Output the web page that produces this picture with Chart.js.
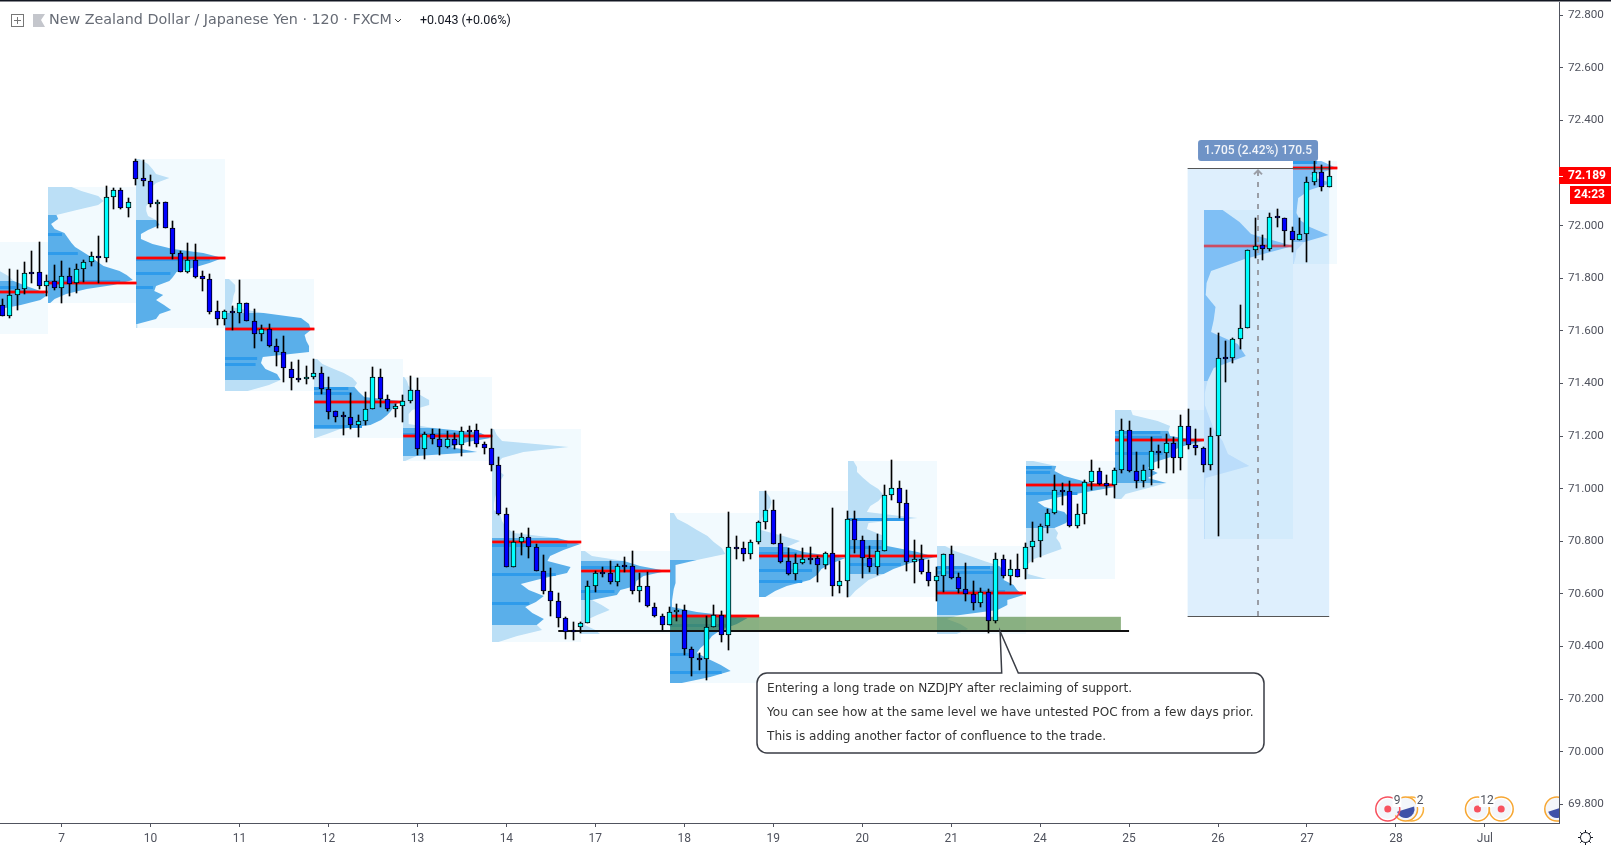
<!DOCTYPE html>
<html>
<head>
<meta charset="utf-8">
<title>NZDJPY</title>
<script src="https://cdn.jsdelivr.net/npm/chart.js@4/dist/chart.umd.min.js"></script>
<style>
  html, body { margin: 0; background: #fff; overflow: hidden; }
  canvas { display: block; }
</style>
</head>
<body>
<canvas id="nzdjpy" width="1611" height="848"></canvas>
<script>
Chart.defaults.font.family = 'Roboto, sans-serif'

// candles, 2 hour bars, index = bar number
const opens = [
  71.697,71.658,71.735,71.758,71.823,71.823,71.772,71.788,71.762,71.807,
  71.781,71.834,71.861,71.883,71.876,72.108,72.134,72.068,72.245,72.181,
  72.169,72.081,72.089,71.993,71.895,71.825,71.868,71.809,71.796,71.674,
  71.644,71.674,71.670,71.705,71.636,71.587,71.606,71.541,71.518,71.456,
  71.420,71.416,71.423,71.439,71.378,71.294,71.276,71.271,71.243,71.256,
  71.302,71.423,71.343,71.302,71.313,71.332,71.374,71.152,71.207,71.188,
  71.157,71.188,71.165,71.222,71.222,71.169,71.153,71.092,70.905,70.701,
  70.796,70.815,70.777,70.686,70.613,70.572,70.507,70.463,70.475,70.488,
  70.629,70.682,70.678,70.644,70.708,70.705,70.610,70.632,70.551,70.515,
  70.480,70.530,70.537,70.389,70.355,70.351,70.476,70.518,70.442,70.777,
  70.773,70.750,70.796,70.872,70.918,70.792,70.724,70.677,70.716,70.735,
  70.735,70.711,70.754,70.629,70.651,70.883,70.804,70.735,70.701,70.762,
  70.975,71.001,70.944,70.720,70.731,70.682,70.651,70.670,70.750,70.663,
  70.617,70.598,70.564,70.606,70.498,70.731,70.667,70.693,70.693,70.777,
  70.803,70.857,70.906,70.994,70.990,70.860,70.902,71.024,71.066,71.020,
  71.013,71.070,71.222,71.066,71.028,71.070,71.142,71.134,71.172,71.118,
  71.237,71.165,71.153,71.092,71.199,71.496,71.496,71.568,71.610,71.906,
  71.925,71.910,72.032,72.028,71.978,71.947,71.967,72.168,72.203,72.146
];
const highs = [
  71.721,71.834,71.831,71.862,71.904,71.938,71.812,71.849,71.866,71.838,
  71.854,71.869,71.899,71.961,72.151,72.143,72.143,72.105,72.253,72.250,
  72.193,72.098,72.089,72.018,71.904,71.934,71.930,71.828,71.816,71.714,
  71.679,71.695,71.793,71.705,71.682,71.621,71.626,71.569,71.579,71.482,
  71.489,71.465,71.493,71.463,71.423,71.294,71.292,71.363,71.279,71.368,
  71.461,71.454,71.355,71.321,71.355,71.427,71.420,71.214,71.226,71.226,
  71.218,71.210,71.233,71.237,71.245,71.176,71.227,71.120,70.925,70.841,
  70.831,70.849,70.788,70.748,70.697,70.602,70.514,70.495,70.495,70.648,
  70.689,70.702,70.724,70.712,70.739,70.762,70.678,70.682,70.564,70.522,
  70.549,70.561,70.556,70.400,70.376,70.515,70.556,70.534,70.911,70.819,
  70.796,70.804,70.876,70.990,70.959,70.826,70.773,70.750,70.773,70.777,
  70.743,70.758,70.925,70.725,70.914,70.914,70.819,70.781,70.826,71.013,
  71.109,71.028,70.997,70.804,70.785,70.728,70.701,70.750,70.781,70.678,
  70.716,70.651,70.621,70.617,70.754,70.747,70.728,70.750,70.792,70.872,
  70.864,70.921,71.054,71.020,71.028,70.940,71.032,71.108,71.077,71.051,
  71.077,71.264,71.256,71.138,71.092,71.195,71.165,71.207,71.195,71.279,
  71.302,71.226,71.157,71.229,71.591,71.561,71.572,71.698,71.906,72.028,
  71.963,72.047,72.062,72.028,71.994,72.028,72.184,72.252,72.229,72.245
];
const lows = [
  71.655,71.650,71.679,71.740,71.781,71.759,71.733,71.755,71.706,71.733,
  71.744,71.786,71.847,71.783,71.862,72.062,72.063,72.033,72.155,72.151,
  72.072,71.991,71.992,71.873,71.825,71.820,71.801,71.752,71.665,71.622,
  71.622,71.603,71.631,71.636,71.535,71.561,71.540,71.466,71.406,71.375,
  71.407,71.398,71.416,71.362,71.266,71.254,71.205,71.228,71.198,71.241,
  71.302,71.312,71.294,71.274,71.254,71.327,71.129,71.114,71.171,71.129,
  71.153,71.150,71.125,71.162,71.160,71.133,71.068,70.901,70.701,70.701,
  70.749,70.738,70.686,70.601,70.517,70.473,70.430,70.426,70.452,70.488,
  70.608,70.663,70.639,70.631,70.682,70.598,70.570,70.549,70.513,70.464,
  70.480,70.498,70.366,70.289,70.310,70.271,70.476,70.416,70.388,70.731,
  70.727,70.734,70.790,70.848,70.791,70.719,70.673,70.654,70.715,70.714,
  70.645,70.693,70.593,70.603,70.588,70.755,70.659,70.683,70.672,70.762,
  70.958,70.888,70.686,70.641,70.674,70.630,70.573,70.606,70.655,70.602,
  70.573,70.537,70.549,70.452,70.488,70.659,70.634,70.663,70.655,70.720,
  70.739,70.830,70.904,70.937,70.854,70.850,70.864,70.997,71.013,70.975,
  70.963,71.058,71.065,71.003,71.005,71.016,71.077,71.058,71.058,71.073,
  71.150,71.127,71.063,71.073,70.821,71.407,71.479,71.532,71.610,71.876,
  71.868,71.902,71.996,71.924,71.901,71.944,71.863,72.153,72.131,72.146
];
const closes = [
  71.658,71.735,71.758,71.819,71.818,71.772,71.788,71.762,71.807,71.779,
  71.834,71.861,71.883,71.876,72.108,72.134,72.068,72.089,72.179,72.169,
  72.081,72.089,71.992,71.894,71.825,71.868,71.806,71.796,71.673,71.644,
  71.674,71.669,71.705,71.636,71.587,71.606,71.541,71.518,71.458,71.420,
  71.414,71.423,71.439,71.378,71.293,71.274,71.271,71.243,71.256,71.302,
  71.423,71.343,71.302,71.313,71.332,71.374,71.152,71.207,71.188,71.157,
  71.188,71.165,71.218,71.217,71.169,71.153,71.092,70.905,70.701,70.796,
  70.815,70.777,70.686,70.613,70.572,70.507,70.457,70.457,70.488,70.629,
  70.680,70.677,70.644,70.708,70.703,70.610,70.632,70.553,70.515,70.480,
  70.530,70.537,70.389,70.355,70.350,70.476,70.518,70.442,70.777,70.772,
  70.750,70.796,70.872,70.918,70.791,70.722,70.676,70.716,70.731,70.730,
  70.711,70.754,70.629,70.651,70.883,70.804,70.735,70.701,70.762,70.975,
  71.001,70.944,70.720,70.731,70.682,70.651,70.670,70.750,70.662,70.617,
  70.598,70.564,70.606,70.498,70.731,70.667,70.693,70.663,70.777,70.803,
  70.857,70.906,70.994,70.989,70.860,70.902,71.024,71.066,71.019,71.011,
  71.070,71.222,71.066,71.028,71.070,71.142,71.134,71.172,71.118,71.237,
  71.165,71.153,71.092,71.199,71.496,71.494,71.568,71.610,71.906,71.924,
  71.910,72.032,72.028,71.978,71.947,71.967,72.168,72.203,72.146,72.189
];

// axis
const dayLabels = ['7','10','11','12','13','14','17','18','19','20','21','24','25','26','27','28','Jul'];
const dayBars = [8,20,32,44,56,68,80,92,104,116,128,140,152,164,176,188,200];

// volume profile per session: first bar, last bar, price range, POC
const sessionFrom = [-5.9,6.1,18.1,30.1,42.1,54.1,66.1,78.1,90.1,102.1,114.1,126.1,138.1,150.1,162.1,174.1];
const sessionTo   = [6.1,18.1,30.1,42.1,54.1,66.1,78.1,90.1,102.1,114.1,126.1,138.1,150.1,162.1,174.1,180.1];
const sessionHigh = [71.937,72.148,72.252,71.796,71.492,71.426,71.226,70.762,70.909,70.991,71.105,70.782,71.106,71.299,72.060,72.247];
const sessionLow  = [71.588,71.705,71.610,71.372,71.191,71.105,70.418,70.446,70.262,70.588,70.588,70.447,70.655,70.961,70.809,71.853];
const sessionPoc  = [71.749,71.783,71.876,71.606,71.328,71.200,70.796,70.686,70.515,70.743,70.743,70.602,71.013,71.184,71.924,72.218];

// volume by row from top to bottom, as % of a whole session width
const volume = [
  [30,32,34,36,38,40,46,56,62,76,92,100,92,70,40,36,32,28,24,20],
  [27,38,57,63,57,33,10,12,4,8,19,23,27,31,40,49,55,63,81,89,96,74,44,21,8,3],
  [3,13,18,22,37,22,16,13,13,15,11,11,13,22,26,13,5,5,18,41,75,97,82,67,45,41,37,22,20,30,22,31,39,26,22,1,1],
  [4,11,11,9,8,6,43,85,94,96,89,91,94,94,42,40,45,58,62,49,25],
  [3,9,22,33,43,48,45,50,56,97,90,86,82,75,63,29,14,1],
  [1,4,6,13,19,29,29,10,6,6,6,34,87,98,72,53,83,15,2],
  [2,5,11,86,35,11,5,5,13,9,5,5,3,2,2,9,11,15,24,73,99,80,65,62,88,84,54,32,41,58,49,37,45,58,50,56,28,7],
  [4,12,48,66,96,70,62,61,44,40,12,23,32,18,6,4,16,21],
  [4,8,19,30,42,49,58,62,30,6,6,6,6,4,3,2,2,30,87,75,57,47,42,34,30,43,57,68,45,13],
  [7,12,14,12,6,3,2,2,27,46,31,50,97,80,70,65,57,31,18,7],
  [6,10,10,17,25,34,40,34,25,21,78,23,21,38,40,44,78,98,70,51,40,23,15,8,2],
  [9,20,37,53,70,75,75,75,86,90,97,79,79,68,26,11,26,35,22],
  [8,34,32,43,64,100,68,38,13,21,43,49,45,32,36,34,38,40,24,9,2,2,2,23],
  [18,20,48,62,60,62,99,73,63,63,45,37,48,37,58,33,12,7],
  [21,40,53,100,46,8,3,2,13,11,8,38,47,11,4,1,1,6,11,21,27,51,2,1,1,1,1,1],
  [32,49,19,43,19,6,5,4,8,19,40,13,4,3,1]
];
// value area row range and the darker rows
const valueFrom = [8,6,13,6,6,11,19,2,8,10,14,4,1,4,0,0];
const valueTo   = [13,24,34,17,14,16,33,9,29,18,19,13,12,13,13,10];
const darkRows = [[9],[10,14,20],[21,24,27],[14,15],[6,7,14],[12],[20,25,30],[3,8],[19,24,27],[11,14,16],[10,15,18],[4,5,9],[1,2,6],[4,5,8],[],[0]];

// drawings
const lastPrice = 72.189;
const countdown = '24:23';
const supportLine = { from: 75, to: 152, price: 70.458 };
const supportZone = { from: 90.1, to: 150.9, top: 70.513, bottom: 70.458 };
const measureBox = { from: 159.9, to: 179, top: 72.218, bottom: 70.516, mid: 169.4 };
const measureText = '1.705 (2.42%) 170.5';
const noteLines = [
  'Entering a long trade on NZDJPY after reclaiming of support.',
  'You can see how at the same level we have untested POC from a few days prior.',
  'This is adding another factor of confluence to the trade.'
];
const eventBars = [186.9, 199, 202.2];
const flagBars = [189.3, 209.7];
const ringBars = [190.1];
const eventPrice = 69.782;

const candleIdx = opens.map(function (o, i) { return i });

const bodies = candleIdx.map(function (i) { return { x: i, y: [opens[i], closes[i]] } });
const wicks = candleIdx.map(function (i) { return { x: i, y: [lows[i], highs[i]] } });

const snapBars = {
  id: 'snapBars',
  afterDatasetsUpdate: function (chart) {
    chart.getSortedVisibleDatasetMetas().forEach(function (meta) {
      meta.data.forEach(function (el) {
        el.x = Math.floor(el.x) + 0.5;
        el.y = Math.round(el.y);
        el.base = Math.round(el.base);
        if (Math.abs(el.base - el.y) < 2) el.y = el.base - 2;
      });
    });
  }
};

const underlay = {
  id: 'underlay',
  beforeDatasetsDraw: function (chart) {
    const c = chart.ctx, x = chart.scales.x, y = chart.scales.y, a = chart.chartArea;
    c.save();
    c.beginPath();
    c.rect(a.left, a.top, a.right - a.left, a.bottom - a.top);
    c.clip();

    // measure box
    const bx0 = x.getPixelForValue(measureBox.from), bx1 = x.getPixelForValue(measureBox.to);
    const by0 = y.getPixelForValue(measureBox.top), by1 = y.getPixelForValue(measureBox.bottom);
    c.fillStyle = 'rgba(33,150,243,0.15)';
    c.fillRect(bx0, by0, bx1 - bx0, by1 - by0);

    sessionFrom.forEach(function (from, s) {
      const x0 = Math.round(x.getPixelForValue(from));
      const x1 = Math.round(x.getPixelForValue(sessionTo[s]));
      const top = y.getPixelForValue(sessionHigh[s]);
      const bottom = y.getPixelForValue(sessionLow[s]);
      c.fillStyle = 'rgba(33,170,243,0.06)';
      c.fillRect(x0, Math.round(top), x1 - x0, Math.round(bottom) - Math.round(top));

      // profile outline goes through one point per row
      const rows = volume[s];
      const step = (sessionHigh[s] - sessionLow[s]) / (rows.length - 1);
      const faded = s >= 14;
      function rowY(r) { return Math.round(y.getPixelForValue(sessionHigh[s] - r * step)) }
      function rowX(r) { return x.getPixelForValue(from + 12 * rows[r] / 100) }
      rows.forEach(function (v, r) {
        if (r === rows.length - 1) return;
        const inValue = r >= valueFrom[s] && r <= valueTo[s];
        c.fillStyle = inValue ? (faded ? '#7FBFF5' : '#5AAFEA') : (faded ? '#BBDDFB' : '#BBDFF6');
        c.beginPath();
        c.moveTo(x0, rowY(r));
        c.lineTo(rowX(r), rowY(r));
        c.lineTo(rowX(r + 1), rowY(r + 1));
        c.lineTo(x0, rowY(r + 1));
        c.closePath();
        c.fill();
      });
      c.fillStyle = '#2E9BEB';
      darkRows[s].forEach(function (r) {
        c.fillRect(x0, rowY(r), (rowX(r) - x0) * 0.85, 3);
      });
    });

    // support zone and line
    const zx0 = x.getPixelForValue(supportZone.from), zx1 = x.getPixelForValue(supportZone.to);
    const zy0 = y.getPixelForValue(supportZone.top), zy1 = y.getPixelForValue(supportZone.bottom);
    c.fillStyle = 'rgba(68,127,48,0.6)';
    c.fillRect(zx0, zy0, zx1 - zx0, zy1 - zy0);

    // POC lines
    sessionPoc.forEach(function (p, s) {
      const py = Math.round(y.getPixelForValue(p));
      const x0 = x.getPixelForValue(sessionFrom[s]);
      const x1 = x.getPixelForValue(sessionTo[s]);
      c.globalAlpha = s === 14 ? 0.5 : 1;
      c.fillStyle = 'rgba(255,0,0,0.4)';
      c.fillRect(x0, py - 2, x1 - x0, 4);
      c.fillStyle = '#f00';
      c.fillRect(x0, py - 1, x1 - x0, 2);
    });
    c.globalAlpha = 1;

    c.fillStyle = '#111';
    const ly = Math.round(y.getPixelForValue(supportLine.price));
    c.fillRect(x.getPixelForValue(supportLine.from), ly - 1, x.getPixelForValue(supportLine.to) - x.getPixelForValue(supportLine.from), 2);

    // measure lines, arrow
    c.fillStyle = '#555';
    c.fillRect(bx0, Math.round(by0), bx1 - bx0, 1);
    c.fillRect(bx0, Math.round(by1), bx1 - bx0, 1);
    const mx = Math.round(x.getPixelForValue(measureBox.mid));
    c.strokeStyle = '#9A9EA6';
    c.lineWidth = 2;
    c.setLineDash([5, 6]);
    c.beginPath();
    c.moveTo(mx, by1);
    c.lineTo(mx, by0 + 3);
    c.stroke();
    c.setLineDash([]);
    c.beginPath();
    c.moveTo(mx - 4, by0 + 6);
    c.lineTo(mx, by0 + 2);
    c.lineTo(mx + 4, by0 + 6);
    c.stroke();
    c.restore();
  }
};

function roundBox(c, x0, y0, w, h, r) {
  c.beginPath();
  c.roundRect(x0, y0, w, h, r);
}

const overlay = {
  id: 'overlay',
  afterDraw: function (chart) {
    const c = chart.ctx, x = chart.scales.x, y = chart.scales.y, a = chart.chartArea;
    c.save();

    // top border
    c.fillStyle = '#131722';
    c.fillRect(0, 0, chart.width, 1.5);

    // measure label
    const mid = x.getPixelForValue(measureBox.mid);
    c.fillStyle = '#6F93C6';
    roundBox(c, mid - 60, 140, 120, 21, 3);
    c.fill();
    c.fillStyle = '#F2F5FA';
    c.font = '500 12px Roboto, sans-serif';
    c.textAlign = 'center';
    c.textBaseline = 'middle';
    c.fillText(measureText, mid, 151);

    // note with tail
    const tipX = x.getPixelForValue(134.6), tipY = y.getPixelForValue(supportLine.price);
    c.beginPath();
    c.moveTo(1001.7, 673);
    c.lineTo(tipX, tipY);
    c.lineTo(1018.3, 673);
    c.lineTo(1254, 673);
    c.arcTo(1264, 673, 1264, 683, 10);
    c.lineTo(1264, 743);
    c.arcTo(1264, 753, 1254, 753, 10);
    c.lineTo(767, 753);
    c.arcTo(757, 753, 757, 743, 10);
    c.lineTo(757, 683);
    c.arcTo(757, 673, 767, 673, 10);
    c.closePath();
    c.fillStyle = '#fff';
    c.fill();
    c.strokeStyle = '#3A3D45';
    c.lineWidth = 1.5;
    c.stroke();
    c.fillStyle = '#333';
    c.font = '12.1px "DejaVu Sans", sans-serif';
    c.textAlign = 'left';
    noteLines.forEach(function (t, i) {
      c.fillText(t, 767, [688.5, 712.5, 736.5][i]);
    });

    // header
    c.strokeStyle = '#777';
    c.lineWidth = 1;
    c.strokeRect(11.5, 14.5, 12, 12);
    c.beginPath();
    c.moveTo(14, 20.5); c.lineTo(21, 20.5);
    c.moveTo(17.5, 17); c.lineTo(17.5, 24);
    c.stroke();
    c.fillStyle = '#C4C6CC';
    c.beginPath();
    c.moveTo(33, 14); c.lineTo(45, 14); c.lineTo(41, 20); c.lineTo(45, 27); c.lineTo(33, 27);
    c.closePath();
    c.fill();
    c.fillStyle = '#666B75';
    c.font = '14.3px "DejaVu Sans", sans-serif';
    c.fillText('New Zealand Dollar / Japanese Yen · 120 · FXCM', 49, 20.5);
    c.strokeStyle = '#444';
    c.beginPath();
    c.moveTo(395, 19); c.lineTo(398, 22); c.lineTo(401, 19);
    c.stroke();
    c.fillStyle = '#131722';
    c.font = '12.5px Roboto, sans-serif';
    c.fillText('+0.043 (+0.06%)', 420, 21);

    // last price tags
    const py = Math.round(y.getPixelForValue(lastPrice));
    c.fillStyle = '#f00';
    c.fillRect(a.right, py - 9, chart.width - a.right, 17);
    c.fillRect(1570, py + 10, chart.width - 1570, 18);
    c.fillStyle = '#fff';
    c.fillRect(a.right, py, 4, 1);
    c.font = 'bold 12px Roboto, sans-serif';
    c.fillText(lastPrice.toFixed(3), 1568, py);
    c.fillText(countdown, 1574, py + 19);

    // events on the time line
    const ey = y.getPixelForValue(eventPrice);
    function ring(px, color) {
      c.strokeStyle = color;
      c.lineWidth = 1.5;
      c.beginPath();
      c.arc(px, ey, 12, 0, Math.PI * 2);
      c.stroke();
    }
    c.save();
    c.beginPath();
    c.rect(0, 0, a.right, chart.height);
    c.clip();
    ringBars.forEach(function (b) { ring(x.getPixelForValue(b), '#F9B13E') });
    flagBars.forEach(function (b) {
      const px = x.getPixelForValue(b);
      c.fillStyle = '#F4F6FA';
      c.beginPath();
      c.arc(px, ey, 12, 0, Math.PI * 2);
      c.fill();
      c.fillStyle = '#3F51A8';
      c.beginPath();
      c.arc(px, ey, 9, -0.3, Math.PI - 0.3);
      c.fill();
      ring(px, '#F7A733');
    });
    eventBars.forEach(function (b, i) {
      const px = x.getPixelForValue(b);
      c.fillStyle = '#F4F6FA';
      c.beginPath();
      c.arc(px, ey, 10, 0, Math.PI * 2);
      c.fill();
      ring(px, i === 0 ? '#F7525F' : '#F7A733');
      c.fillStyle = '#F7525F';
      c.beginPath();
      c.arc(px, ey, 3.5, 0, Math.PI * 2);
      c.fill();
    });
    c.restore();
    c.font = '12px Roboto, sans-serif';
    c.textAlign = 'center';
    ['9', '2', '12'].forEach(function (t, i) {
      const tx = [1397, 1420, 1487][i];
      c.fillStyle = '#fff';
      c.fillRect(tx - c.measureText(t).width / 2 - 1, 795, c.measureText(t).width + 2, 12);
      c.fillStyle = '#50535E';
      c.fillText(t, tx, 801);
    });

    // settings gear
    const gx = 1585.5, gy = 837.5;
    c.strokeStyle = '#131722';
    c.lineWidth = 1;
    c.beginPath();
    c.arc(gx, gy, 5, 0, Math.PI * 2);
    for (let i = 0; i < 8; i++) {
      const t = i * Math.PI / 4;
      c.moveTo(gx + Math.cos(t) * 5, gy + Math.sin(t) * 5);
      c.lineTo(gx + Math.cos(t) * 7.5, gy + Math.sin(t) * 7.5);
    }
    c.stroke();
    c.restore();
  }
};

const data = {
  datasets: [{
    label: 'Body',
    data: bodies,
    order: 1,
    grouped: false,
    barThickness: 5,
    borderWidth: 1,
    borderSkipped: false,
    borderColor: '#000',
    backgroundColor: candleIdx.map(function (i) { return closes[i] >= opens[i] ? '#00FFFF' : '#0000FF' })
  }, {
    label: 'Wick',
    data: wicks,
    order: 2,
    grouped: false,
    barThickness: 1,
    backgroundColor: '#000'
  }]
};

const options = {
  responsive: false,
  animation: false,
  events: [],
  layout: { padding: { top: 2 } },
  plugins: {
    legend: { display: false },
    tooltip: { enabled: false }
  },
  scales: {
    x: {
      type: 'linear',
      position: 'bottom',
      offset: false,
      min: -0.31,
      max: 210,
      afterBuildTicks: function (axis) {
        axis.ticks = dayBars.map(function (value) { return { value: value } });
      },
      afterFit: function (axis) {
        axis.height = 25;
        axis.paddingLeft = 0;
        axis.paddingRight = 0;
      },
      grid: { drawOnChartArea: false, offset: false, color: '#50535E', tickLength: 4 },
      border: { color: '#50535E' },
      ticks: {
        autoSkip: false,
        maxRotation: 0,
        padding: 5,
        color: '#50535E',
        font: { size: 12 },
        callback: function (value, i) { return dayLabels[i] }
      }
    },
    y: {
      type: 'linear',
      position: 'right',
      min: 69.729,
      max: 72.8506,
      afterFit: function (axis) {
        axis.width = 52;
        axis.paddingTop = 0;
        axis.paddingBottom = 0;
      },
      grid: { drawOnChartArea: false, color: '#50535E', tickLength: 4 },
      border: { color: '#50535E' },
      ticks: {
        stepSize: 0.2,
        includeBounds: false,
        padding: 5,
        color: '#50535E',
        font: { size: 11.7 },
        callback: function (value) { return value.toFixed(3) }
      }
    }
  }
};

const ctx = document.getElementById('nzdjpy');
const chart = new Chart(ctx, {
  type: 'bar',
  data: data,
  options: options,
  plugins: [snapBars, underlay, overlay]
});
</script>
</body>
</html>
